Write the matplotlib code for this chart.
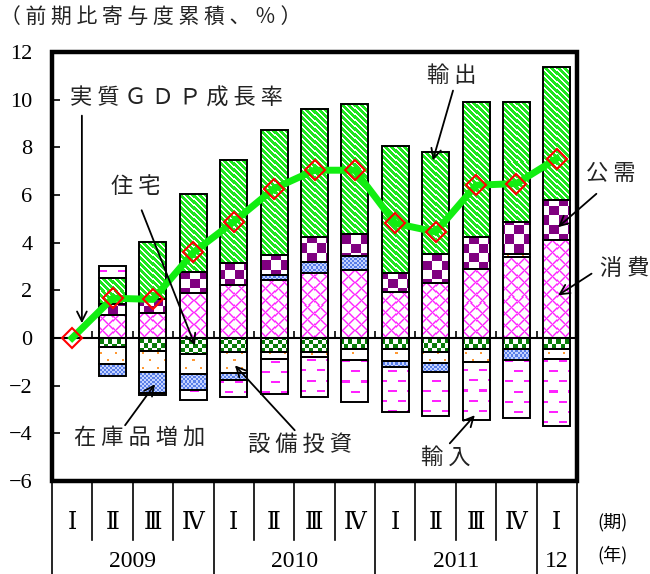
import numpy as np
import matplotlib
matplotlib.use("Agg")
import matplotlib.pyplot as plt
from matplotlib.colors import to_rgb
from matplotlib.patches import Rectangle

plt.rcParams['font.family'] = ['Noto Sans CJK JP', 'DejaVu Sans']

# quarters 2009 I .. 2012 I
quarters = ["Ⅰ", "Ⅱ", "Ⅲ", "Ⅳ", "Ⅰ", "Ⅱ", "Ⅲ", "Ⅳ", "Ⅰ", "Ⅱ", "Ⅲ", "Ⅳ", "Ⅰ"]
years = ["2009", "2010", "2011", "12"]
year_len = [4, 4, 4, 1]

# cumulative contributions (%pt)
consumption = [0, 0.96, 1.04, 1.87, 2.22, 2.43, 2.73, 2.85, 1.92, 2.29, 2.90, 3.40, 4.11]
housing = [0, -0.39, -0.56, -0.66, -0.58, -0.58, -0.58, -0.48, -0.48, -0.60, -0.48, -0.48, -0.48]
capex = [0, -0.70, -0.85, -0.85, -0.90, -0.30, -0.22, -0.46, -0.48, -0.46, -0.54, 0.14, -0.40]
inventory = [0, -0.49, -0.88, -0.68, -0.28, 0.20, 0.47, 0.61, -0.27, -0.36, 0, -0.43, 0]
public = [0, 0.45, 0.61, 0.91, 0.91, 0.84, 1.02, 0.91, 0.79, 1.25, 1.34, 1.31, 1.68]
exports = [0, 1.10, 2.38, 3.27, 4.35, 5.24, 5.40, 5.46, 5.36, 4.26, 5.66, 5.05, 5.57]
imports = [0, 0.50, -0.12, -0.40, -0.70, -1.46, -1.68, -1.74, -1.87, -1.87, -2.44, -2.45, -2.83]
gdp = [0, 1.67, 1.62, 3.59, 4.88, 6.27, 7.04, 7.04, 4.81, 4.45, 6.41, 6.48, 7.53]

FIG_W, FIG_H = 650, 574


def rgb(c):
    return np.array(to_rgb(c))


# pixel tiles for the fill patterns
def stripes(fg, bg, period=6, width=2):
    t = np.empty((period, period, 3))
    for i in range(period):
        for j in range(period):
            t[i, j] = rgb(fg) if (j - i) % period < width else rgb(bg)
    return t


def lattice(col, period=12):
    t = np.ones((period, period, 3))
    for i in range(period):
        for j in range(period):
            a, b = (i + j) % period, (i - j) % period
            if a == 0 or b == 0:
                t[i, j] = rgb(col)
            elif a in (1, period - 1) or b in (1, period - 1):
                t[i, j] = 0.5 * rgb(col) + 0.5
    return t


def checker(c1, c2, cell):
    t = np.empty((2 * cell, 2 * cell, 3))
    for i in range(2 * cell):
        for j in range(2 * cell):
            t[i, j] = rgb(c1) if (i // cell + j // cell) % 2 == 0 else rgb(c2)
    return t


def dots(col, period=14):
    t = np.ones((period, period, 3))
    h = period // 2
    t[2:4, 2:4] = rgb(col)
    t[2 + h:4 + h, 2 + h:4 + h] = rgb(col)
    return t


def dashes(col):
    t = np.ones((20, 18, 3))
    t[0:2, 0:8] = rgb(col)
    t[10:12, 9:17] = rgb(col)
    return t


def texture(ax, patch, tile):
    x0, y0 = patch.get_x(), patch.get_y()
    w, h = patch.get_width(), patch.get_height()
    if h == 0:
        return
    ylo, yhi = min(y0, y0 + h), max(y0, y0 + h)
    (px0, py0), (px1, py1) = ax.transData.transform([(x0, ylo), (x0 + w, yhi)])
    wpx = max(int(round(px1 - px0)), 1)
    hpx = max(int(round(py1 - py0)), 1)
    th, tw = tile.shape[:2]
    rows = (int(FIG_H - py1) + np.arange(hpx)) % th
    cols = (int(px0) + np.arange(wpx)) % tw
    img = tile[rows][:, cols]
    ax.imshow(img, extent=(x0, x0 + w, ylo, yhi), aspect='auto',
              interpolation='nearest', zorder=2)


fig = plt.figure(figsize=(FIG_W / 100, FIG_H / 100), dpi=100)
ax = fig.add_axes([52 / FIG_W, 1 - 481 / FIG_H, 525 / FIG_W, 429 / FIG_H])
n = len(quarters)
x = np.arange(n)
ax.set_xlim(-0.5, n - 0.5)
ax.set_ylim(-6, 12)
ax.set_autoscale_on(False)

parts = [
    (consumption, lattice('#ff22ff')),
    (housing, checker('#0a7d0a', '#ffffff', 4)),
    (capex, dots('#ff9933')),
    (inventory, checker('#5a7fe8', '#c4d3ff', 2)),
    (public, checker('#800080', '#ffffff', 9)),
    (exports, stripes('#ffffff', '#1ee61e')),
    (imports, dashes('#ff22ff')),
]

width = 0.67
pos_base = np.zeros(n)
neg_base = np.zeros(n)
for vals, tile in parts:
    v = np.array(vals, dtype=float)
    bottoms = np.where(v >= 0, pos_base, neg_base)
    bars = ax.bar(x, v, width, bottom=bottoms, fill=False,
                  edgecolor='black', linewidth=1.4, zorder=3)
    for p, val in zip(bars.patches, v):
        if val != 0:
            texture(ax, p, tile)
        else:
            p.set_visible(False)
    pos_base += np.where(v > 0, v, 0)
    neg_base += np.where(v < 0, v, 0)

# GDP growth line
ax.plot(x, gdp, color='#11ee11', lw=5, zorder=5)
ax.plot(x, gdp, ls='none', marker='D', ms=10, mfc='none', mec='red',
        mew=1.5, zorder=6)

# axes: zero line with boundary ticks, thick frame
for s in ['top', 'right', 'left']:
    ax.spines[s].set_visible(False)
ax.spines['bottom'].set_position(('data', 0))
ax.spines['bottom'].set_linewidth(1.5)
ax.spines['bottom'].set_zorder(4)
ax.set_xticks(np.arange(0.5, n - 1, 1))
ax.tick_params(axis='x', direction='in', length=5, width=1.2, labelbottom=False)
ax.set_yticks(range(-6, 13, 2))
ax.tick_params(axis='y', direction='in', length=6, width=1.2, pad=14)
for lab in ax.get_yticklabels():
    lab.set_fontfamily('Liberation Serif')
    lab.set_fontsize(16)
ax.add_patch(Rectangle((0, 0), 1, 1, transform=ax.transAxes, fill=False,
                       lw=3.2, edgecolor='black', zorder=10, clip_on=False))

# period table under the axes
trans = ax.get_xaxis_transform()
ends = np.cumsum(year_len)
starts = ends - np.array(year_len)
bottom_q, bottom_y = -0.1375, -0.22
for b in np.arange(-0.5, n, 1):
    full = b in (-0.5, n - 0.5) or (b + 0.5) in starts
    ax.plot([b, b], [0, bottom_y if full else bottom_q], color='black',
            lw=1.2, transform=trans, clip_on=False)
for i, q in enumerate(quarters):
    ax.text(i, -0.097, q, transform=trans, ha='center', va='center',
            fontsize=17, family=['DejaVu Serif', 'Noto Sans CJK JP'])
for yr, s, e in zip(years, starts, ends):
    ax.text((s + e - 1) / 2, -0.188, yr, transform=trans, ha='center',
            va='center', fontsize=17, family='Liberation Serif')
ax.text(1.067, -0.097, "(期)", transform=ax.transAxes, ha='center',
        va='center', fontsize=13)
ax.text(1.067, -0.172, "(年)", transform=ax.transAxes, ha='center',
        va='center', fontsize=13)


def spaced(s):
    return " ".join(s)


fig.text(0, 1 - 18 / FIG_H, spaced("（前期比寄与度累積、％）"),
         ha='left', va='center', fontsize=15, color='#222222')

# labels with arrows: (text, text pos, arrow start, arrow tip)
labels = [
    ("実質ＧＤＰ成長率", (2.58, 10.05), (0.24, 9.33), (0.24, 0.62)),
    ("住宅", (1.58, 6.36), (1.72, 5.36), (3.04, -0.31)),
    ("輸出", (9.40, 11.0), (9.43, 10.38), (8.93, 7.45)),
    ("公需", (13.34, 6.9), (12.98, 6.05), (12.03, 4.65)),
    ("消費", (13.68, 2.91), (12.86, 2.7), (12.03, 1.79)),
    ("在庫品増加", (1.68, -4.16), (1.31, -3.66), (2.05, -1.94)),
    ("設備投資", (5.64, -4.46), (5.51, -3.87), (4.03, -1.15)),
    ("輸入", (9.25, -5.0), (9.35, -4.42), (9.97, -3.24)),
]
for txt, tpos, start, tip in labels:
    ax.text(tpos[0], tpos[1], spaced(txt), ha='center', va='center',
            fontsize=16, color='#222222', zorder=8, clip_on=False)
    ax.annotate('', xy=tip, xytext=start, zorder=8, annotation_clip=False,
                arrowprops=dict(arrowstyle='->,head_length=0.7,head_width=0.35',
                                lw=1.3, color='black', shrinkA=0, shrinkB=0))

fig.savefig("out.png", dpi=100)
